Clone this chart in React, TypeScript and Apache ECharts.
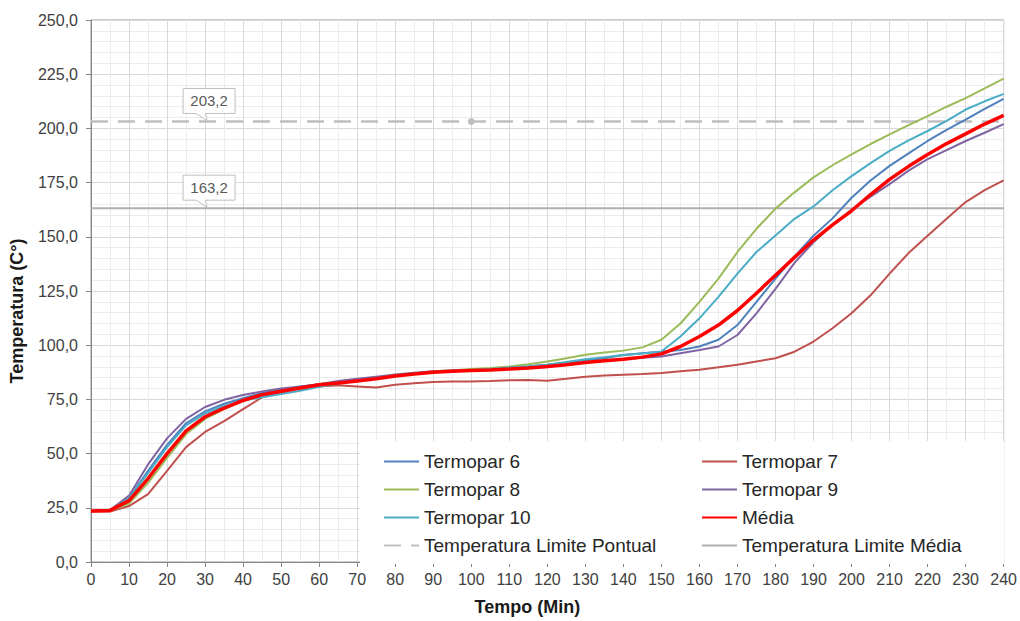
import React, { useEffect, useRef } from "react";
import * as echarts from "echarts";

const times = [0, 5, 10, 15, 20, 25, 30, 35, 40, 45, 50, 55, 60, 65, 70, 75, 80, 85, 90, 95, 100, 105, 110, 115, 120, 125, 130, 135, 140, 145, 150, 155, 160, 165, 170, 175, 180, 185, 190, 195, 200, 205, 210, 215, 220, 225, 230, 235, 240];

const termopar6 = [23.5, 23.8, 29.5, 42, 54, 64, 69.5, 73, 75.5, 78, 79.5, 80.8, 82, 83, 84, 85, 86, 86.8, 87.5, 88, 88.5, 89, 89.5, 90.2, 91, 92, 93, 94, 95.5, 96.3, 97, 97.8, 99.4, 102.5, 109.3, 120, 130.7, 141, 150.5, 158.5, 168, 176, 182.7, 188.5, 194.2, 199.3, 204, 209, 213.6];
const termopar7 = [23.3, 23.3, 25.8, 31.3, 42, 53, 60, 65, 70.5, 76, 78.3, 80, 81, 81.5, 81, 80.5, 81.8, 82.5, 83, 83.2, 83.3, 83.5, 83.8, 84, 83.6, 84.5, 85.5, 86, 86.4, 86.7, 87.2, 88, 88.7, 89.8, 91, 92.5, 94, 97, 101.7, 107.8, 114.7, 123, 133, 142.5, 150.5, 158.3, 166, 171.5, 176];
const termopar8 = [23.5, 23.6, 27, 36.5, 48, 59, 66, 70.5, 74.2, 77, 79, 80.6, 82, 83, 84, 85, 86, 87, 88, 88.5, 89, 89.5, 90.2, 91.2, 92.5, 94, 95.6, 96.6, 97.5, 99, 102.5, 110, 120, 130.7, 143, 153.7, 163, 170.5, 177.4, 183, 188, 192.8, 197.2, 201.5, 205.7, 210, 214, 218.5, 223];
const termopar9 = [23.5, 24, 30.6, 45, 57, 66, 71.5, 74.8, 77, 78.7, 80, 81, 82, 83.5, 84.5, 85.5, 86.5, 87.3, 88, 88.3, 88.5, 88.8, 89, 89.5, 90, 91, 92, 92.8, 93.5, 94.2, 94.8, 96.3, 97.8, 99.4, 104.7, 114.7, 126, 138, 147.5, 155.5, 162.5, 168.5, 174.3, 180.5, 185.8, 190, 194.2, 198, 202];
const termopar10 = [23.5, 23.8, 29.5, 41, 53, 63, 68.5, 72, 74.5, 76, 77.5, 79, 80.8, 82.3, 83.5, 84.8, 86, 86.8, 87.5, 88, 88.5, 89, 89.7, 90.3, 91, 92.2, 93.5, 94.5, 95.5, 96.2, 97.1, 104, 112.4, 122.3, 133, 143, 150.6, 158.3, 164, 171.5, 178, 184, 189.6, 194.5, 198.8, 203.5, 208.7, 212.5, 215.9];
const media = [23.5, 23.8, 28.3, 38.5, 50, 60.5, 67, 71, 74.5, 77.2, 78.8, 80.3, 81.8, 82.6, 83.5, 84.5, 85.8, 86.7, 87.5, 88, 88.3, 88.6, 89, 89.5, 90.2, 91, 92, 92.8, 93.5, 94.5, 96, 99.4, 104, 109.3, 116, 124, 132.3, 140.5, 148.5, 155.5, 162, 169.5, 176.5, 182.5, 188, 193, 197.5, 202, 206];

const limitePontual = 203.2;
const limiteMedia = 163.2;
const calloutTime = 30;
const markerTime = 100;

const xRange = [0, 240];

const fmt = (v: number) => v.toFixed(1).replace(".", ",");
const pair = (arr: number[]) => times.map((t, i) => [t, arr[i]]);

const FONT = "Liberation Sans, Arial, sans-serif";

export default function App() {
  const ref = useRef<HTMLDivElement>(null);
  useEffect(() => {
    if (!ref.current) return;
    const chart = echarts.init(ref.current, undefined, { renderer: "svg" });
    const thin = 2;
    const lineSeries = (name: string, arr: number[], color: string, width: number, z = 3) => ({
      name,
      type: "line",
      data: pair(arr),
      symbol: "none",
      z,
      lineStyle: { color, width },
      itemStyle: { color },
    });
    const legendText = { fontSize: 19, fontFamily: FONT, color: "#262626", lineHeight: 19 };
    const legendBase = {
      top: 452,
      orient: "vertical",
      itemGap: 9,
      itemWidth: 35,
      itemHeight: 14,
      padding: 0,
      selectedMode: false,
      textStyle: legendText,
      itemStyle: { opacity: 0 },
      z: 10,
    };
    chart.setOption({
      animation: false,
      backgroundColor: "#ffffff",
      grid: { left: 91, right: 15, top: 20, bottom: 56, show: true, borderColor: "#9a9a9a", borderWidth: 1 },
      xAxis: {
        type: "value",
        min: xRange[0],
        max: xRange[1],
        interval: 10,
        name: "Tempo (Min)",
        nameLocation: "middle",
        nameGap: 36,
        nameTextStyle: { fontSize: 18, fontWeight: "bold", fontFamily: FONT, color: "#1a1a1a", padding: [0, 40, 0, 0] },
        axisLine: { show: true, lineStyle: { color: "#868686", width: 1 } },
        axisTick: { show: true, inside: false, length: 5, lineStyle: { color: "#868686" } },
        axisLabel: { fontSize: 16, fontFamily: FONT, color: "#404040", margin: 9 },
        splitLine: { show: true, lineStyle: { color: "#d9d9d9", width: 1 } },
        minorTick: { show: false, splitNumber: 2 },
        minorSplitLine: { show: true, lineStyle: { color: "#ececec", width: 1 } },
      },
      yAxis: {
        type: "value",
        min: 0,
        max: 250,
        interval: 25,
        name: "Temperatura (C°)",
        nameLocation: "middle",
        nameGap: 65,
        nameRotate: 90,
        nameTextStyle: { fontSize: 18, fontWeight: "bold", fontFamily: FONT, color: "#1a1a1a", padding: [0, 40, 0, 0] },
        axisLine: { show: true, lineStyle: { color: "#868686", width: 1 } },
        axisTick: { show: true, inside: false, length: 5, lineStyle: { color: "#868686" } },
        axisLabel: { fontSize: 16, fontFamily: FONT, color: "#404040", margin: 13, formatter: (v: number) => fmt(v) },
        splitLine: { show: true, lineStyle: { color: "#d9d9d9", width: 1 } },
        minorTick: { show: false, splitNumber: 5 },
        minorSplitLine: { show: true, lineStyle: { color: "#ececec", width: 1 } },
      },
      legend: [
        {
          ...legendBase,
          left: 383,
          data: ["Termopar 6", "Termopar 8", "Termopar 10", "Temperatura Limite Pontual"],
        },
        {
          ...legendBase,
          left: 701,
          data: ["Termopar 7", "Termopar 9", "Média", "Temperatura Limite Média"],
        },
      ],
      graphic: [
        {
          type: "rect",
          z: 1,
          shape: { x: 360, y: 441, width: 644, height: 123 },
          style: { fill: "#ffffff" },
        },
      ],
      series: [
        {
          name: "Temperatura Limite Pontual",
          type: "line",
          data: [[xRange[0], limitePontual], [xRange[1], limitePontual]],
          symbol: "none",
          z: 2,
          lineStyle: { color: "#bfbfbf", width: 2.5, type: [17, 10] },
          itemStyle: { color: "#bfbfbf" },
          markPoint: {
            symbol: "circle",
            symbolSize: 7,
            itemStyle: { color: "#bfbfbf" },
            label: { show: false },
            data: [{ coord: [markerTime, limitePontual] }],
          },
        },
        {
          name: "Temperatura Limite Média",
          type: "line",
          data: [[xRange[0], limiteMedia], [xRange[1], limiteMedia]],
          symbol: "none",
          z: 2,
          lineStyle: { color: "#b0b0b0", width: 2 },
          itemStyle: { color: "#b0b0b0" },
        },
        lineSeries("Termopar 6", termopar6, "#4F81BD", thin),
        lineSeries("Termopar 7", termopar7, "#C0504D", thin),
        lineSeries("Termopar 8", termopar8, "#9BBB59", thin),
        lineSeries("Termopar 9", termopar9, "#8064A2", thin),
        lineSeries("Termopar 10", termopar10, "#4BACC6", thin),
        lineSeries("Média", media, "#FF0000", 3.5, 4),
        {
          name: "callouts",
          type: "custom",
          z: 5,
          data: [[calloutTime, limitePontual], [calloutTime, limiteMedia]],
          renderItem: (params: any, api: any) => {
            const v = api.value(1) as number;
            const p = api.coord([api.value(0), v]);
            const px = p[0] + 2;
            const py = p[1];
            const x0 = px - 24;
            const x1 = px + 28;
            const y1 = py - 8;
            const y0 = y1 - 25;
            return {
              type: "group",
              children: [
                {
                  type: "polygon",
                  shape: {
                    points: [
                      [x0, y0],
                      [x1, y0],
                      [x1, y1],
                      [px - 2, y1],
                      [px, py - 1],
                      [px - 11, y1],
                      [x0, y1],
                    ],
                  },
                  style: { fill: "#ffffff", stroke: "#bfbfbf", lineWidth: 1 },
                },
                {
                  type: "text",
                  style: {
                    text: fmt(v),
                    x: (x0 + x1) / 2,
                    y: (y0 + y1) / 2,
                    align: "center",
                    verticalAlign: "middle",
                    fill: "#595959",
                    fontSize: 15,
                    fontFamily: FONT,
                  },
                },
              ],
            };
          },
        },
      ],
    });
    return () => chart.dispose();
  }, []);
  return <div ref={ref} style={{ position: "absolute", left: 0, top: 0, width: 1020, height: 621 }} />;
}
